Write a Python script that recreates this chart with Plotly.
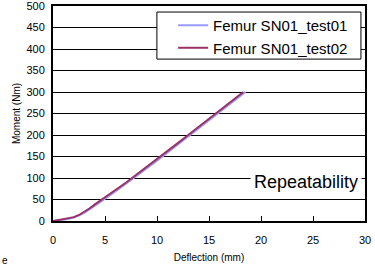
import plotly.graph_objects as go

deflection_01 = [0, 0.5, 1.0, 1.5, 2.0, 2.5, 3.0, 3.5, 4.0, 4.5, 5.0, 6.0, 7.0, 8.0, 9.0, 10.0, 11.0, 12.0, 13.0, 14.0, 15.0, 16.0, 17.0, 18.0, 18.5]
moment_01 = [0, 1, 3, 5, 8, 13, 19, 27, 36, 44, 52, 69, 86, 104, 122, 140, 159, 178, 197, 216, 235, 254, 273, 292, 300]
deflection_02 = [0, 0.5, 1.0, 1.5, 2.0, 2.5, 3.0, 3.5, 4.0, 4.5, 5.0, 6.0, 7.0, 8.0, 9.0, 10.0, 11.0, 12.0, 13.0, 14.0, 15.0, 16.0, 17.0, 18.0, 18.3]
moment_02 = [0, 2, 4, 6, 9, 14, 21, 29, 38, 46, 55, 72, 89, 107, 125, 143, 162, 181, 200, 219, 238, 257, 276, 294, 300]

series_names = ["Femur SN01_test01", "Femur SN01_test02"]
x_ticks = [0, 5, 10, 15, 20, 25, 30]
y_ticks = [0, 50, 100, 150, 200, 250, 300, 350, 400, 450, 500]

fig = go.Figure()
fig.add_trace(go.Scatter(x=deflection_01, y=moment_01, mode="lines", name=series_names[0],
                         line=dict(color="#9999FF", width=2)))
fig.add_trace(go.Scatter(x=deflection_02, y=moment_02, mode="lines", name=series_names[1],
                         line=dict(color="#993366", width=2)))

fig.update_layout(
    width=375, height=269,
    margin=dict(l=53, r=10, t=6, b=48, autoexpand=False),
    paper_bgcolor="white", plot_bgcolor="white",
    font=dict(family="Liberation Sans, Arial", color="black", size=11),
    showlegend=True,
    legend=dict(x=0.385, y=0.986, xanchor="left", yanchor="top",
                bgcolor="rgba(0,0,0,0)", borderwidth=0,
                font=dict(size=15), tracegroupgap=0, itemwidth=30),
    xaxis=dict(range=[0, 30], tickvals=x_ticks, showgrid=False, zeroline=False,
               showline=True, linecolor="black", linewidth=2, mirror=True,
               ticks="inside", ticklen=5, tickcolor="black", tickwidth=1,
               ticklabelstandoff=8, automargin=False, ticklabeloverflow="allow",
               title=dict(text="Deflection (mm)", font=dict(size=10), standoff=9)),
    yaxis=dict(range=[0, 500.01], tickvals=y_ticks, showgrid=True, gridcolor="black", gridwidth=1,
               zeroline=False, showline=True, linecolor="black", linewidth=2, mirror=True,
               ticks="", ticklabelstandoff=4, automargin=False, ticklabeloverflow="allow",
               title=dict(text="Moment (Nm)", font=dict(size=10), standoff=4)),
    shapes=[
        dict(type="rect", xref="paper", yref="paper", x0=0.333, x1=0.987, y0=0.753, y1=0.972,
             line=dict(color="black", width=1), fillcolor="white", layer="above"),
    ],
    annotations=[
        dict(x=0.99, y=100, xref="paper", yref="y", xanchor="right", yanchor="middle",
             text="Repeatability", showarrow=False, bgcolor="white",
             font=dict(size=18), borderpad=3, yshift=-4),
        dict(x=0, y=0, xref="paper", yref="paper", xanchor="left", yanchor="bottom",
             text="e", showarrow=False, font=dict(size=10),
             xshift=-53, yshift=-47),
    ],
)

fig.write_html("out.html", config={"displayModeBar": False},
               post_script="document.body.style.margin='0';document.body.style.overflow='hidden';")
